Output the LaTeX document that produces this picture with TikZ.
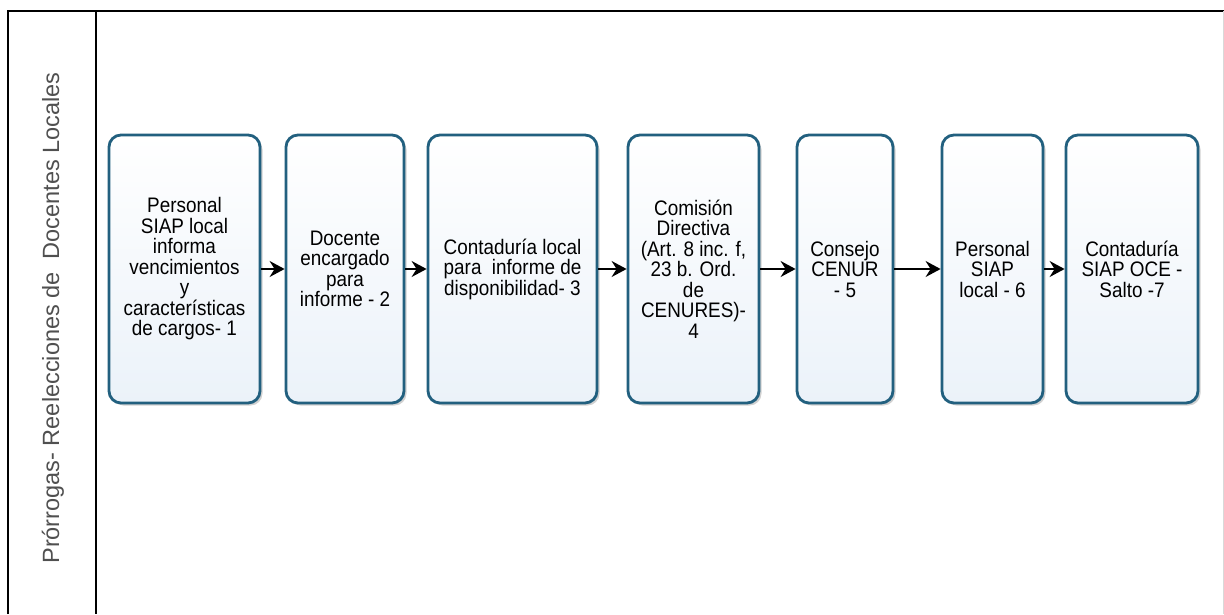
\documentclass[tikz,border=0pt]{standalone}
\usepackage{fontspec}
\setmainfont{Liberation Sans}
\newfontfamily\boxfont{Liberation Sans}[FakeStretch=0.9]
\usetikzlibrary{arrows.meta,shadows}
\definecolor{edgeblue}{HTML}{22607F}
\definecolor{fillblue}{HTML}{EBF2F9}
\definecolor{lanegray}{HTML}{505050}
\tikzset{
  stepbox/.style={draw=edgeblue, line width=2.8pt, rounded corners=12pt,
    top color=white, bottom color=fillblue, minimum height=268pt,
    inner sep=2pt, align=center, font=\boxfont\fontsize{21}{20.5}\selectfont,
    drop shadow={shadow xshift=2.5pt, shadow yshift=-2.5pt, opacity=0.18, fill=black}},
  flow/.style={line width=1.8pt, -{Stealth[length=15pt,width=16pt,inset=5pt]}},
  frame/.style={line width=1.6pt, black},
}
\begin{document}
\begin{tikzpicture}[x=1pt,y=-1pt]
\useasboundingbox (0,0) rectangle (1224,614);
\fill[white] (0,0) rectangle (1224,614);
% frame
\draw[frame] (8,614) -- (8,11) -- (1224,11);
\draw[frame] (96,11) -- (96,614);
\draw[line width=1pt, black!15] (1223,11) -- (1223,614);
% lane label
\node[rotate=90, text=lanegray, font=\fontsize{23.5}{24}\selectfont] (lane) at (53,318) {Prórrogas- Reelecciones de\ \ Docentes Locales};
% boxes
\node[stepbox, minimum width=151pt] (b1) at (184.5,269) {Personal\\SIAP local\\informa\\vencimientos\\y\\características\\de cargos- 1};
\node[stepbox, minimum width=118pt] (b2) at (345,269) {Docente\\encargado\\para\\informe - 2};
\node[stepbox, minimum width=169pt] (b3) at (512.5,269) {Contaduría local\\para\ \ informe de\\disponibilidad- 3};
\node[stepbox, minimum width=131pt] (b4) at (693.5,269) {Comisión\\Directiva\\(Art. 8 inc. f,\\23 b. Ord.\\de\\CENURES)-\\4};
\node[stepbox, minimum width=96pt] (b5) at (845,269) {Consejo\\CENUR\\- 5};
\node[stepbox, minimum width=101pt] (b6) at (992.5,269) {Personal\\SIAP\\local - 6};
\node[stepbox, minimum width=132pt] (b7) at (1132,269) {Contaduría\\SIAP OCE -\\Salto -7};
% arrows
\draw[flow] (b1.east) -- (b2.west);
\draw[flow] (b2.east) -- (b3.west);
\draw[flow] (b3.east) -- (b4.west);
\draw[flow] (b4.east) -- (b5.west);
\draw[flow] (b5.east) -- (b6.west);
\draw[flow] (b6.east) -- (b7.west);
\end{tikzpicture}
\end{document}
